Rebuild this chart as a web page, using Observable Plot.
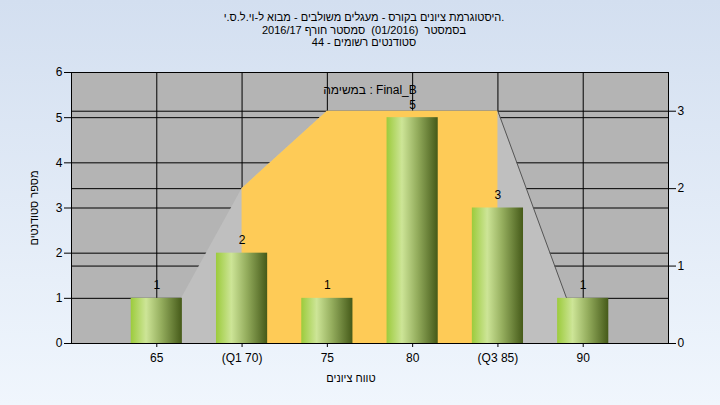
<!DOCTYPE html>
<html><head><meta charset="utf-8">
<script src="https://cdn.jsdelivr.net/npm/d3@7"></script>
<script src="https://cdn.jsdelivr.net/npm/@observablehq/plot@0.6"></script>
<style>
html,body{margin:0;padding:0;}
#wrap{width:720px;height:405px;background:linear-gradient(to bottom,#d3dff0,#f0f6fd);font-family:"Liberation Sans",Arial,sans-serif;overflow:hidden;}
#title{height:52px;box-sizing:border-box;padding-top:11px;padding-left:8px;text-align:center;font-size:11px;line-height:12.5px;color:#000;white-space:pre;}
#title div{height:12.5px;}
</style></head><body>
<div id="wrap"><div id="title" dir="ltr"></div><div id="chart"></div></div>
<script>
// ---- data ----
const titleLines = [
  "היסטוגרמת ציונים בקורס - מעגלים משולבים - מבוא ל-וי.ל.ס.י.",
  "בסמסטר  (01/2016)  סמסטר חורף 2016/17",
  "סטודנטים רשומים - 44"
];
const taskLabel = "במשימה : Final_B";
const xLabel = "טווח ציונים";
const yLabel = "מספר סטודנטים";
const grades = [65, 70, 75, 80, 85, 90];
const gradeLabels = ["65", "(Q1 70)", "75", "80", "(Q3 85)", "90"];
const counts = [1, 2, 1, 5, 3, 1];
const curveValues = [0, 2, 3, 3, 3, 0];   // read on the right-hand axis
const q1 = 70, q3 = 85;
const leftTicks = [0, 1, 2, 3, 4, 5, 6];
const rightTicks = [0, 1, 2, 3];
const leftMax = 6, rightMax = 3.5;
const xDomain = [60, 95];
const barHalf = 1.5;

// ---- title ----
const t = document.getElementById("title");
titleLines.forEach(s => { const d = document.createElement("div"); d.textContent = s; t.appendChild(d); });

// ---- tables ----
const toLeft = v => v * leftMax / rightMax;
const barRows = grades.map((g, i) => ({grade: g, count: counts[i]}));
const curveRows = grades.map((g, i) => ({grade: g, y: toLeft(curveValues[i])}));

const svg = Plot.plot({
  width: 720, height: 353,
  marginTop: 20, marginBottom: 62, marginLeft: 71, marginRight: 52,
  style: {fontFamily: "'Liberation Sans', Arial, sans-serif", fontSize: "12px", background: "transparent", color: "#000"},
  x: {domain: xDomain},
  y: {domain: [0, leftMax]},
  marks: [
    Plot.frame({fill: "#b4b4b4"}),
    Plot.gridY(leftTicks.filter(v => v > 0), {stroke: "#000", strokeOpacity: 1}),
    Plot.gridY(rightTicks.filter(v => v > 0).map(toLeft), {stroke: "#000", strokeOpacity: 1}),
    Plot.gridX(grades, {stroke: "#000", strokeOpacity: 1}),
    Plot.areaY(curveRows, {x: "grade", y: "y", fill: "#bfbfbf"}),
    Plot.areaY(curveRows.filter(d => d.grade >= q1 && d.grade <= q3), {x: "grade", y: "y", fill: "#fecb57"}),
    Plot.line(curveRows.filter(d => d.grade >= q3), {x: "grade", y: "y", stroke: "#555", strokeWidth: 1}),
    Plot.rectY(barRows, {x1: d => d.grade - barHalf, x2: d => d.grade + barHalf, y: "count", fill: "url(#cyl)", ariaLabel: "bars"}),
    Plot.text(barRows, {x: "grade", y: "count", text: d => String(d.count), dy: -13, fill: "#000"}),
    Plot.text([taskLabel], {frameAnchor: "top", dy: 13, fill: "#000"}),
    Plot.frame({stroke: "#000"}),
    Plot.axisY({ticks: leftTicks, tickSize: 7, tickPadding: 2, label: null, tickFormat: d => String(d)}),
    Plot.axisY({anchor: "right", ticks: rightTicks.map(toLeft), tickFormat: d => String(Math.round(d * rightMax / leftMax)), tickSize: 7, tickPadding: 2, label: null}),
    Plot.axisX({ticks: grades, tickFormat: d => gradeLabels[grades.indexOf(d)], tickSize: 4, tickPadding: 6, label: null}),
    Plot.text([xLabel], {frameAnchor: "bottom", dy: 38, dx: -19, fill: "#000", fontSize: 11}),
    Plot.text([yLabel], {frameAnchor: "left", textAnchor: "middle", rotate: -90, dx: -37, fill: "#000", fontSize: 11})
  ]
});

const s = d3.select(svg);
const defs = s.insert("defs", ":first-child");
const grad = defs.append("linearGradient").attr("id", "cyl").attr("x1", 0).attr("x2", 1).attr("y1", 0).attr("y2", 0);
[[0, "#9ccb3c"], [0.3, "#cde597"], [0.6, "#94ad5d"], [1, "#455a19"]].forEach(([o, c]) =>
  grad.append("stop").attr("offset", o).attr("stop-color", c));
s.select('g[aria-label="bars"]').style("filter", "drop-shadow(5px 4px 2.5px rgba(0,0,0,0.6))");
document.getElementById("chart").appendChild(svg);
</script>
</body></html>
